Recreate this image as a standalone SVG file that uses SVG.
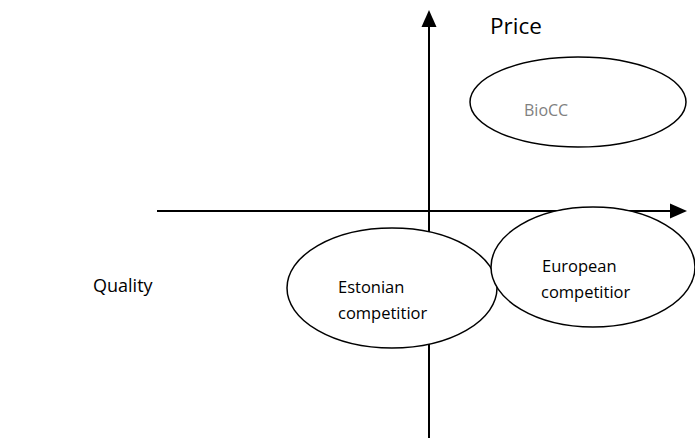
<svg xmlns="http://www.w3.org/2000/svg" width="695" height="445" viewBox="0 0 695 445">
<style>
text{font-family:"Open Sans",Lato,"Liberation Sans",sans-serif;fill:#000}
.ax{stroke:#000;stroke-width:2;fill:none}
.el{stroke:#000;stroke-width:1.5;fill:#fff}
.lbl{font-size:16.5px}
</style>
<g id="connectors">
<path class="ax" d="M429,438 V26"/>
<polygon points="429,10 421.5,27 436.5,27" fill="#000"/>
<path class="ax" d="M157,211 H671"/>
<polygon points="687,211 670,203.5 670,218.5" fill="#000"/>
</g>
<g id="price"><text x="490" y="34" font-size="22.5">Price</text></g>
<g id="quality"><text x="93" y="292" font-size="18">Quality</text></g>
<g id="bioCC">
<ellipse class="el" cx="578" cy="102" rx="108" ry="45"/>
<text x="524" y="116" font-size="16" style="fill:#808080">BioCC</text>
</g>
<g id="estonian">
<ellipse class="el" cx="392" cy="288" rx="105" ry="60"/>
<text class="lbl" x="338" y="293">Estonian</text>
<text class="lbl" x="338" y="319">competitior</text>
</g>
<g id="european">
<ellipse class="el" cx="593" cy="267" rx="102" ry="60"/>
<text class="lbl" x="542" y="272">European</text>
<text class="lbl" x="541" y="298">competitior</text>
</g>
</svg>
